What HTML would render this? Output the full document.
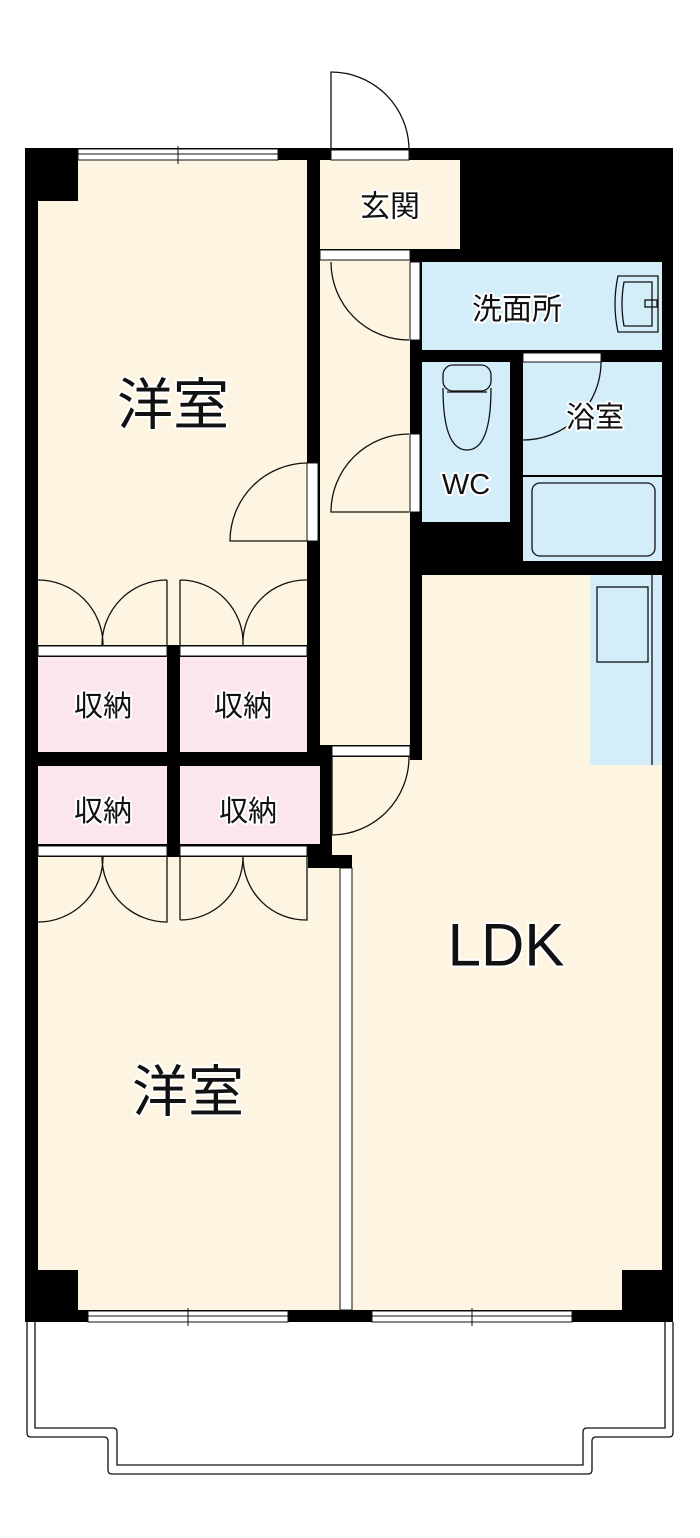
<!DOCTYPE html>
<html><head><meta charset="utf-8"><style>
html,body{margin:0;padding:0;background:#fff;}
svg{display:block;}
text{font-family:"Liberation Sans","Noto Sans CJK JP",sans-serif;fill:#111;text-anchor:middle;dominant-baseline:central;paint-order:stroke;stroke:#fff;stroke-width:4px;stroke-linejoin:round;}
</style></head><body>
<svg width="700" height="1538" viewBox="0 0 700 1538" xmlns="http://www.w3.org/2000/svg">
<!-- balcony -->
<g fill="none" stroke="#111" stroke-width="1.3">
<path d="M27 1322 V1433 Q27 1437 31 1437 H104 Q108 1437 108 1441 V1470 Q108 1474 112 1474 H588 Q592 1474 592 1470 V1441 Q592 1437 596 1437 H669 Q673 1437 673 1433 V1322"/>
<path d="M35 1322 V1428 H113 Q117 1428 117 1432 V1465 H583 V1432 Q583 1428 587 1428 H665 V1322"/>
</g>
<!-- black base -->
<rect x="25" y="148" width="648" height="1174" fill="#000"/>
<!-- cream rooms -->
<g fill="#fdf5e2">
<rect x="38" y="160" width="269" height="485"/>
<rect x="320" y="160" width="140" height="89"/>
<rect x="320" y="260" width="90" height="485"/>
<rect x="422" y="575" width="240" height="735"/>
<rect x="352" y="760" width="80" height="550"/>
<rect x="332" y="757" width="78" height="98"/>
<rect x="38" y="857" width="302" height="453"/>
</g>
<!-- corner blocks -->
<rect x="38" y="160" width="40" height="41" fill="#000"/>
<rect x="38" y="1270" width="40" height="40" fill="#000"/>
<rect x="622" y="1270" width="40" height="40" fill="#000"/>
<!-- blue wet areas -->
<g fill="#d3eef9">
<rect x="422" y="262" width="240" height="88"/>
<rect x="422" y="362" width="88" height="160"/>
<rect x="523" y="362" width="139" height="113"/>
<rect x="523" y="477" width="139" height="84"/>
<rect x="590" y="575" width="72" height="190"/>
</g>
<g fill="none" stroke="#111" stroke-width="1.3">
<rect x="532" y="483" width="123" height="73" rx="8"/>
<rect x="597" y="587" width="51" height="75"/>
<line x1="652" y1="575" x2="652" y2="765"/>
<path d="M618 276 Q612 304 618 332 H658 V276 Z"/>
<path d="M624 282 Q620 304 624 326 H652 V282 Z"/>
<rect x="645" y="300" width="12" height="7"/>
<rect x="443" y="365" width="48" height="26" rx="10"/>
<path d="M443 388 Q443 450 467 450 Q491 450 491 388"/>
<line x1="447" y1="392" x2="487" y2="392"/>
</g>
<!-- pink storage -->
<g fill="#fbe6ee">
<rect x="38" y="657" width="129" height="95"/>
<rect x="180" y="657" width="127" height="95"/>
<rect x="38" y="766" width="129" height="78"/>
<rect x="180" y="766" width="140" height="78"/>
</g>
<!-- white door/window strips -->
<g fill="#fff" stroke="#111" stroke-width="1">
<rect x="331" y="150" width="78" height="10"/>
<rect x="320" y="250" width="90" height="10"/>
<rect x="410" y="262" width="10" height="78"/>
<rect x="523" y="353" width="78" height="9"/>
<rect x="410" y="434" width="10" height="78"/>
<rect x="307" y="463" width="11" height="78"/>
<rect x="332" y="746" width="78" height="10"/>
<rect x="38" y="646" width="129" height="10"/>
<rect x="180" y="646" width="127" height="10"/>
<rect x="38" y="846" width="129" height="10"/>
<rect x="180" y="846" width="127" height="10"/>
<rect x="340" y="868" width="12" height="442"/>
<rect x="78" y="149" width="200" height="11"/>
<rect x="88" y="1311" width="200" height="11"/>
<rect x="372" y="1311" width="200" height="11"/>
</g>
<g stroke="#111" stroke-width="1">
<line x1="78" y1="154" x2="278" y2="154"/><line x1="178" y1="146" x2="178" y2="164"/>
<line x1="88" y1="1316" x2="288" y2="1316"/><line x1="188" y1="1308" x2="188" y2="1326"/>
<line x1="372" y1="1316" x2="572" y2="1316"/><line x1="472" y1="1308" x2="472" y2="1326"/>
</g>
<rect x="308" y="855" width="44" height="13" fill="#000"/>
<!-- door swings -->
<g fill="none" stroke="#111" stroke-width="1.3">
<path d="M331 150 V72 A78 78 0 0 1 409 150"/>
<path d="M331 262 A78 78 0 0 0 409 340"/>
<path d="M409 434 A78 78 0 0 0 331 512 H409"/>
<path d="M601 362 A78 78 0 0 1 523 440"/>
<path d="M307 463 A78 78 0 0 0 230 541 H307"/>
<path d="M409 757 A78 78 0 0 1 332 835 V757"/>
<path d="M38 580 A65 65 0 0 1 103 645 M167 580 A65 65 0 0 0 102 645 M167 580 V645"/>
<path d="M180 580 A63 63 0 0 1 243 645 M307 580 A63 63 0 0 0 243 645 M180 580 V645"/>
<path d="M103 857 A65 65 0 0 1 38 922 M102 857 A65 65 0 0 0 167 922 V857"/>
<path d="M243 857 A63 63 0 0 1 180 920 M243 857 A63 63 0 0 0 307 920 V857 M180 857 V920"/>
</g>
<!-- labels -->
<text x="173" y="405" font-size="56">洋室</text>
<text x="390" y="207" font-size="30">玄関</text>
<text x="517" y="310" font-size="30">洗面所</text>
<text x="595" y="418" font-size="29">浴室</text>
<text x="466" y="485" font-size="29">WC</text>
<text x="103" y="707" font-size="29">収納</text>
<text x="243" y="707" font-size="29">収納</text>
<text x="103" y="812" font-size="29">収納</text>
<text x="248" y="812" font-size="29">収納</text>
<text x="506" y="945" font-size="60">LDK</text>
<text x="188" y="1092" font-size="56">洋室</text>
</svg>
</body></html>
